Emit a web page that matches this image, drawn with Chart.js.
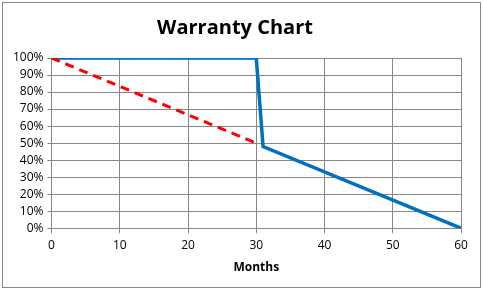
<!DOCTYPE html>
<html>
<head>
<meta charset="utf-8">
<script src="https://cdn.jsdelivr.net/npm/chart.js@4"></script>
<style>
  html, body { margin: 0; padding: 0; background: #fff; }
  #frame {
    position: absolute; left: 2px; top: 2px;
    width: 477px; height: 284px;
    border: 1px solid #868686;
  }
  #warranty { position: absolute; left: 0; top: 0; }
</style>
</head>
<body>
<div id="frame"></div>
<canvas id="warranty" width="483" height="291"></canvas>
<script>
// warranty coverage (fraction) by month
const blueMonths = [0, 30, 31, 60];
const blueCoverage = [1.0, 1.0, 0.48, 0.0];
const redMonths = [0, 30];
const redCoverage = [1.0, 0.5];

const xTicks = [0, 10, 20, 30, 40, 50, 60];
const yTicks = [0, 0.1, 0.2, 0.3, 0.4, 0.5, 0.6, 0.7, 0.8, 0.9, 1.0];

const toPoints = (xs, ys) => xs.map((x, i) => ({ x: x, y: ys[i] }));

const ctx = document.getElementById("warranty");

new Chart(ctx, {
  type: "line",
  data: {
    datasets: [
      {
        label: "Pro-rated",
        data: toPoints(redMonths, redCoverage),
        borderColor: "#FF0000",
        borderWidth: 3,
        borderDash: [9, 6],
        pointRadius: 0,
        tension: 0,
      },
      {
        label: "Coverage",
        data: toPoints(blueMonths, blueCoverage),
        borderColor: "#0070C0",
        borderWidth: 3.5,
        pointRadius: 0,
        tension: 0,
      },
    ],
  },
  options: {
    responsive: false,
    animation: false,
    layout: {
      padding: { left: 9, right: 22, top: 6, bottom: 16 },
    },
    plugins: {
      tooltip: { enabled: false },
      legend: { display: false },
      title: {
        display: true,
        text: "Warranty Chart",
        color: "#000",
        font: { family: "'Open Sans', sans-serif", size: 20, weight: "bold" },
        padding: { top: 10, bottom: 18 },
      },
    },
    scales: {
      x: {
        type: "linear",
        min: 0,
        max: 60,
        afterBuildTicks: (axis) => { axis.ticks = xTicks.map((v) => ({ value: v })); },
        ticks: {
          color: "#000",
          font: { family: "'Open Sans', sans-serif", size: 12 },
          maxRotation: 0,
          autoSkip: false,
          padding: 5,
        },
        grid: { color: "#868686", tickLength: 5 },
        border: { color: "#868686" },
        title: {
          display: true,
          text: "Months",
          color: "#000",
          font: { family: "'Open Sans', sans-serif", size: 12, weight: "bold" },
          padding: { top: 3, bottom: 0 },
        },
      },
      y: {
        min: 0,
        max: 1,
        afterBuildTicks: (axis) => { axis.ticks = yTicks.map((v) => ({ value: v })); },
        ticks: {
          color: "#000",
          font: { family: "'Open Sans', sans-serif", size: 12 },
          autoSkip: false,
          padding: 4,
          callback: (v) => Math.round(v * 100) + "%",
        },
        grid: { color: "#868686", tickLength: 4 },
        border: { color: "#868686" },
      },
    },
  },
});
</script>
</body>
</html>
